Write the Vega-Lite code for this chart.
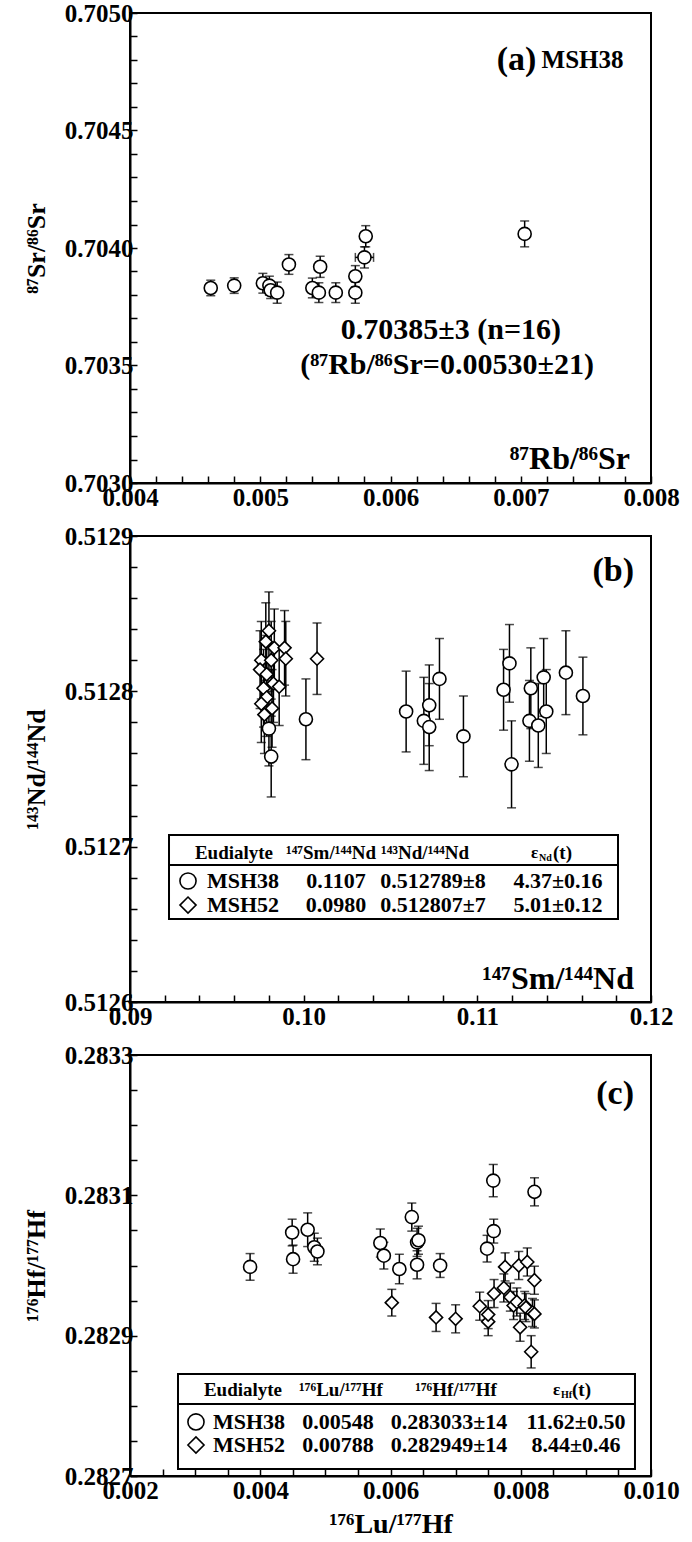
{
  "$schema": "https://vega.github.io/schema/vega-lite/v6.json",
  "padding": {"left": 22, "top": 0, "right": 0, "bottom": 0},
  "background": "white",
  "config": {
    "font": "Liberation Serif",
    "view": {"stroke": "black", "strokeWidth": 2},
    "axis": {
      "domainColor": "black", "domainWidth": 2,
      "tickColor": "black", "tickWidth": 1.5, "tickSize": -7,
      "labelFont": "Liberation Serif", "labelFontWeight": "bold", "labelFontSize": 25, "labelColor": "black",
      "labelFlush": false, "labelOverlap": false, "labelPadding": 4, "grid": false,
      "titleFont": "Liberation Serif", "titleFontWeight": "bold", "titleFontSize": 26, "titleColor": "black"
    },
    "axisX": {"labelPadding": 9},
    "text": {"font": "Liberation Serif", "fontWeight": "bold", "color": "black"}
  },
  "datasets": {
    "rbsr": [
      {"x": 0.00462, "y": 0.70383, "ey": 0.000033},
      {"x": 0.00480, "y": 0.70384, "ey": 0.000033},
      {"x": 0.00502, "y": 0.70385, "ey": 0.000042},
      {"x": 0.00507, "y": 0.70384, "ey": 0.000040},
      {"x": 0.00508, "y": 0.70382, "ey": 0.000035},
      {"x": 0.00513, "y": 0.70381, "ey": 0.000045},
      {"x": 0.00522, "y": 0.70393, "ey": 0.000042},
      {"x": 0.00540, "y": 0.70383, "ey": 0.000042},
      {"x": 0.00545, "y": 0.70381, "ey": 0.000042},
      {"x": 0.00546, "y": 0.70392, "ey": 0.000045},
      {"x": 0.00558, "y": 0.70381, "ey": 0.000042},
      {"x": 0.00573, "y": 0.70388, "ey": 0.000045},
      {"x": 0.00573, "y": 0.70381, "ey": 0.000045},
      {"x": 0.00580, "y": 0.70396, "ey": 0.000045, "ex": 0.00007},
      {"x": 0.00581, "y": 0.70405, "ey": 0.000045},
      {"x": 0.00703, "y": 0.70406, "ey": 0.000055}
    ],
    "smnd": [
      {"sample": "MSH52", "x": 0.09800, "y": 0.512839, "ey": 0.000025},
      {"sample": "MSH52", "x": 0.09782, "y": 0.512832, "ey": 0.000025},
      {"sample": "MSH52", "x": 0.09831, "y": 0.512828, "ey": 0.000025},
      {"sample": "MSH52", "x": 0.09890, "y": 0.512828, "ey": 0.000024},
      {"sample": "MSH52", "x": 0.09756, "y": 0.512820, "ey": 0.000025},
      {"sample": "MSH52", "x": 0.09813, "y": 0.512820, "ey": 0.000025},
      {"sample": "MSH52", "x": 0.09897, "y": 0.512821, "ey": 0.000024},
      {"sample": "MSH52", "x": 0.10077, "y": 0.512821, "ey": 0.000023},
      {"sample": "MSH52", "x": 0.09749, "y": 0.512814, "ey": 0.000025},
      {"sample": "MSH52", "x": 0.09787, "y": 0.512811, "ey": 0.000025},
      {"sample": "MSH52", "x": 0.09826, "y": 0.512805, "ey": 0.000025},
      {"sample": "MSH52", "x": 0.09769, "y": 0.512802, "ey": 0.000025},
      {"sample": "MSH52", "x": 0.09859, "y": 0.512803, "ey": 0.000025},
      {"sample": "MSH52", "x": 0.09787, "y": 0.512796, "ey": 0.000025},
      {"sample": "MSH52", "x": 0.09756, "y": 0.512792, "ey": 0.000025},
      {"sample": "MSH52", "x": 0.09774, "y": 0.512785, "ey": 0.000025},
      {"sample": "MSH52", "x": 0.09818, "y": 0.512789, "ey": 0.000025},
      {"sample": "MSH38", "x": 0.09800, "y": 0.512776, "ey": 0.000024},
      {"sample": "MSH38", "x": 0.09813, "y": 0.512758, "ey": 0.000026},
      {"sample": "MSH38", "x": 0.10013, "y": 0.512782, "ey": 0.000026},
      {"sample": "MSH38", "x": 0.10590, "y": 0.512787, "ey": 0.000026},
      {"sample": "MSH38", "x": 0.10692, "y": 0.512781, "ey": 0.000028},
      {"sample": "MSH38", "x": 0.10723, "y": 0.512777, "ey": 0.000028},
      {"sample": "MSH38", "x": 0.10723, "y": 0.512791, "ey": 0.000026},
      {"sample": "MSH38", "x": 0.10782, "y": 0.512808, "ey": 0.000026},
      {"sample": "MSH38", "x": 0.10920, "y": 0.512771, "ey": 0.000026},
      {"sample": "MSH38", "x": 0.11151, "y": 0.512801, "ey": 0.000026},
      {"sample": "MSH38", "x": 0.11185, "y": 0.512818, "ey": 0.000025},
      {"sample": "MSH38", "x": 0.11197, "y": 0.512753, "ey": 0.000028},
      {"sample": "MSH38", "x": 0.11308, "y": 0.512802, "ey": 0.000026},
      {"sample": "MSH38", "x": 0.11300, "y": 0.512781, "ey": 0.000026},
      {"sample": "MSH38", "x": 0.11351, "y": 0.512778, "ey": 0.000027},
      {"sample": "MSH38", "x": 0.11382, "y": 0.512809, "ey": 0.000025},
      {"sample": "MSH38", "x": 0.11397, "y": 0.512787, "ey": 0.000027},
      {"sample": "MSH38", "x": 0.11510, "y": 0.512812, "ey": 0.000027},
      {"sample": "MSH38", "x": 0.11608, "y": 0.512797, "ey": 0.000025}
    ],
    "luhf": [
      {"sample": "MSH38", "x": 0.003844, "y": 0.282998, "ey": 0.000019},
      {"sample": "MSH38", "x": 0.004490, "y": 0.283047, "ey": 0.000019},
      {"sample": "MSH38", "x": 0.004504, "y": 0.283009, "ey": 0.000020},
      {"sample": "MSH38", "x": 0.004728, "y": 0.283051, "ey": 0.000024},
      {"sample": "MSH38", "x": 0.004830, "y": 0.283026, "ey": 0.000020},
      {"sample": "MSH38", "x": 0.004878, "y": 0.283020, "ey": 0.000019},
      {"sample": "MSH38", "x": 0.005844, "y": 0.283032, "ey": 0.000020},
      {"sample": "MSH38", "x": 0.005898, "y": 0.283014, "ey": 0.000019},
      {"sample": "MSH38", "x": 0.006136, "y": 0.282995, "ey": 0.000021},
      {"sample": "MSH38", "x": 0.006327, "y": 0.283069, "ey": 0.000020},
      {"sample": "MSH38", "x": 0.006408, "y": 0.283033, "ey": 0.000020},
      {"sample": "MSH38", "x": 0.006430, "y": 0.283036, "ey": 0.000020},
      {"sample": "MSH38", "x": 0.006408, "y": 0.283001, "ey": 0.000020},
      {"sample": "MSH38", "x": 0.006762, "y": 0.283000, "ey": 0.000017},
      {"sample": "MSH38", "x": 0.007483, "y": 0.283024, "ey": 0.000019},
      {"sample": "MSH38", "x": 0.007585, "y": 0.283049, "ey": 0.000017},
      {"sample": "MSH38", "x": 0.007578, "y": 0.283121, "ey": 0.000023},
      {"sample": "MSH38", "x": 0.008211, "y": 0.283105, "ey": 0.000020},
      {"sample": "MSH52", "x": 0.006020, "y": 0.282947, "ey": 0.000019},
      {"sample": "MSH52", "x": 0.006700, "y": 0.282926, "ey": 0.000020},
      {"sample": "MSH52", "x": 0.007000, "y": 0.282924, "ey": 0.000020},
      {"sample": "MSH52", "x": 0.007370, "y": 0.282942, "ey": 0.000020},
      {"sample": "MSH52", "x": 0.007500, "y": 0.282920, "ey": 0.000020},
      {"sample": "MSH52", "x": 0.007500, "y": 0.282930, "ey": 0.000020},
      {"sample": "MSH52", "x": 0.007590, "y": 0.282960, "ey": 0.000020},
      {"sample": "MSH52", "x": 0.007740, "y": 0.282968, "ey": 0.000020},
      {"sample": "MSH52", "x": 0.007760, "y": 0.282998, "ey": 0.000020},
      {"sample": "MSH52", "x": 0.007840, "y": 0.282955, "ey": 0.000020},
      {"sample": "MSH52", "x": 0.007890, "y": 0.282943, "ey": 0.000020},
      {"sample": "MSH52", "x": 0.007940, "y": 0.282948, "ey": 0.000020},
      {"sample": "MSH52", "x": 0.007970, "y": 0.283000, "ey": 0.000020},
      {"sample": "MSH52", "x": 0.007990, "y": 0.282912, "ey": 0.000020},
      {"sample": "MSH52", "x": 0.008060, "y": 0.282943, "ey": 0.000020},
      {"sample": "MSH52", "x": 0.008080, "y": 0.282940, "ey": 0.000020},
      {"sample": "MSH52", "x": 0.008100, "y": 0.283005, "ey": 0.000020},
      {"sample": "MSH52", "x": 0.008180, "y": 0.282933, "ey": 0.000020},
      {"sample": "MSH52", "x": 0.008210, "y": 0.282979, "ey": 0.000020},
      {"sample": "MSH52", "x": 0.008210, "y": 0.282931, "ey": 0.000020},
      {"sample": "MSH52", "x": 0.008160, "y": 0.282877, "ey": 0.000023}
    ]
  },
  "vconcat": [
    {
      "width": 521, "height": 470,
      "layer": [
        {"data": {"name": "rbsr"},
         "mark": {"type": "errorbar", "color": "black", "ticks": {"size": 9, "thickness": 1.5, "color": "black"}, "rule": {"strokeWidth": 1.5, "color": "black"}},
         "encoding": {
           "x": {"field": "x", "type": "quantitative", "title": null, "scale": {"domain": [0.004, 0.008], "nice": false, "zero": false}},
           "y": {"field": "y", "type": "quantitative", "title": "⁸⁷Sr/⁸⁶Sr", "scale": {"domain": [0.703, 0.705], "nice": false, "zero": false}},
           "yError": {"field": "ey"}}},
        {"data": {"name": "rbsr"},
         "transform": [{"filter": "isValid(datum.ex)"}],
         "mark": {"type": "errorbar", "color": "black", "ticks": {"size": 9, "thickness": 1.5, "color": "black"}, "rule": {"strokeWidth": 1.5, "color": "black"}},
         "encoding": {"x": {"field": "x", "type": "quantitative", "title": null}, "y": {"field": "y", "type": "quantitative", "title": "⁸⁷Sr/⁸⁶Sr"}, "xError": {"field": "ex"}}},
        {"data": {"name": "rbsr"},
         "mark": {"type": "point", "shape": "circle", "filled": true, "fill": "white", "stroke": "black", "strokeWidth": 1.6, "size": 170, "opacity": 1},
         "encoding": {
           "x": {"field": "x", "type": "quantitative",
             "scale": {"domain": [0.004, 0.008], "nice": false, "zero": false},
             "axis": {"title": null, "tickCount": 100,
               "values": [0.004,0.0042,0.0044,0.0046,0.0048,0.005,0.0052,0.0054,0.0056,0.0058,0.006,0.0062,0.0064,0.0066,0.0068,0.007,0.0072,0.0074,0.0076,0.0078,0.008],
               "labelExpr": "abs(datum.value*1000 - round(datum.value*1000)) < 0.01 ? format(datum.value, '.3f') : ''"}},
           "y": {"field": "y", "type": "quantitative",
             "scale": {"domain": [0.703, 0.705], "nice": false, "zero": false},
             "axis": {"title": "⁸⁷Sr/⁸⁶Sr", "titlePadding": 15, "tickCount": 100,
               "values": [0.703,0.7031,0.7032,0.7033,0.7034,0.7035,0.7036,0.7037,0.7038,0.7039,0.704,0.7041,0.7042,0.7043,0.7044,0.7045,0.7046,0.7047,0.7048,0.7049,0.705],
               "labelExpr": "abs(datum.value*2000 - round(datum.value*2000)) < 0.01 ? format(datum.value, '.4f') : ''"}}}},
        {"data": {"values": [{}]},
         "mark": {"type": "text", "text": "(a)", "fontSize": 34, "align": "right", "baseline": "middle"},
         "encoding": {"x": {"datum": 0.00712}, "y": {"datum": 0.7048}}},
        {"data": {"values": [{}]},
         "mark": {"type": "text", "text": "MSH38", "fontSize": 25, "align": "left", "baseline": "middle"},
         "encoding": {"x": {"datum": 0.00716}, "y": {"datum": 0.7048}}},
        {"data": {"values": [{}]},
         "mark": {"type": "text", "text": "0.70385±3 (n=16)", "fontSize": 30, "align": "center", "baseline": "middle"},
         "encoding": {"x": {"datum": 0.006464}, "y": {"datum": 0.703651}}},
        {"data": {"values": [{}]},
         "mark": {"type": "text", "text": "(⁸⁷Rb/⁸⁶Sr=0.00530±21)", "fontSize": 30, "align": "center", "baseline": "middle"},
         "encoding": {"x": {"datum": 0.006434}, "y": {"datum": 0.703502}}},
        {"data": {"values": [{}]},
         "mark": {"type": "text", "text": "⁸⁷Rb/⁸⁶Sr", "fontSize": 32, "align": "right", "baseline": "middle"},
         "encoding": {"x": {"datum": 0.007839}, "y": {"datum": 0.703102}}}
      ]
    },
    {
      "width": 521, "height": 466,
      "layer": [
        {"data": {"name": "smnd"},
         "mark": {"type": "errorbar", "color": "black", "ticks": {"size": 9, "thickness": 1.5, "color": "black"}, "rule": {"strokeWidth": 1.5, "color": "black"}},
         "encoding": {
           "x": {"field": "x", "type": "quantitative", "title": null, "scale": {"domain": [0.09, 0.12], "nice": false, "zero": false}},
           "y": {"field": "y", "type": "quantitative", "title": "¹⁴³Nd/¹⁴⁴Nd", "scale": {"domain": [0.5126, 0.5129], "nice": false, "zero": false}},
           "yError": {"field": "ey"}}},
        {"data": {"name": "smnd"},
         "mark": {"type": "point", "filled": true, "fill": "white", "stroke": "black", "strokeWidth": 1.6, "size": 170, "opacity": 1},
         "encoding": {
           "x": {"field": "x", "type": "quantitative",
             "scale": {"domain": [0.09, 0.12], "nice": false, "zero": false},
             "axis": {"title": null, "tickCount": 100,
               "values": [0.09,0.092,0.094,0.096,0.098,0.1,0.102,0.104,0.106,0.108,0.11,0.112,0.114,0.116,0.118,0.12],
               "labelExpr": "abs(datum.value*100 - round(datum.value*100)) < 0.01 ? format(datum.value, '.2f') : ''"}},
           "y": {"field": "y", "type": "quantitative",
             "scale": {"domain": [0.5126, 0.5129], "nice": false, "zero": false},
             "axis": {"title": "¹⁴³Nd/¹⁴⁴Nd", "titlePadding": 15, "tickCount": 100,
               "values": [0.5126,0.51262,0.51264,0.51266,0.51268,0.5127,0.51272,0.51274,0.51276,0.51278,0.5128,0.51282,0.51284,0.51286,0.51288,0.5129],
               "labelExpr": "abs(datum.value*10000 - round(datum.value*10000)) < 0.01 ? format(datum.value, '.4f') : ''"}},
           "shape": {"field": "sample", "type": "nominal", "scale": {"domain": ["MSH38", "MSH52"], "range": ["circle", "diamond"]}, "legend": null}}},
        {"data": {"values": [{}]},
         "mark": {"type": "text", "text": "(b)", "fontSize": 34, "align": "right", "baseline": "middle"},
         "encoding": {"x": {"datum": 0.11902}, "y": {"datum": 0.5128775}}},
        {"data": {"values": [{}]},
         "mark": {"type": "text", "text": "¹⁴⁷Sm/¹⁴⁴Nd", "fontSize": 32, "align": "right", "baseline": "middle"},
         "encoding": {"x": {"datum": 0.11902}, "y": {"datum": 0.512615}}},
        {"data": {"values": [{}]},
         "mark": {"type": "rect", "fill": "white", "stroke": "black", "strokeWidth": 2},
         "encoding": {"x": {"datum": 0.092246}, "x2": {"datum": 0.1181}, "y": {"datum": 0.5127075}, "y2": {"datum": 0.5126534}}},
        {"data": {"values": [{}]},
         "mark": {"type": "rule", "stroke": "black", "strokeWidth": 2},
         "encoding": {"x": {"datum": 0.092246}, "x2": {"datum": 0.1181}, "y": {"datum": 0.5126882}}},
        {"data": {"values": [{}]},
         "mark": {"type": "text", "text": "Eudialyte", "fontSize": 19, "align": "center", "baseline": "middle"},
         "encoding": {"x": {"datum": 0.095988}, "y": {"datum": 0.5126959}}},
        {"data": {"values": [{}]},
         "mark": {"type": "text", "text": "¹⁴⁷Sm/¹⁴⁴Nd", "fontSize": 19, "align": "center", "baseline": "middle"},
         "encoding": {"x": {"datum": 0.101574}, "y": {"datum": 0.5126959}}},
        {"data": {"values": [{}]},
         "mark": {"type": "text", "text": "¹⁴³Nd/¹⁴⁴Nd", "fontSize": 19, "align": "center", "baseline": "middle"},
         "encoding": {"x": {"datum": 0.106986}, "y": {"datum": 0.5126959}}},
        {"data": {"values": [{}]},
         "mark": {"type": "text", "text": "ε", "fontSize": 17, "align": "left", "baseline": "middle", "dx": -21},
         "encoding": {"x": {"datum": 0.114299}, "y": {"datum": 0.5126959}}},
        {"data": {"values": [{}]},
         "mark": {"type": "text", "text": "Nd", "fontSize": 10, "align": "left", "baseline": "middle", "dx": -13, "dy": 5},
         "encoding": {"x": {"datum": 0.114299}, "y": {"datum": 0.5126959}}},
        {"data": {"values": [{}]},
         "mark": {"type": "text", "text": "(t)", "fontSize": 19, "align": "left", "baseline": "middle", "dx": 1},
         "encoding": {"x": {"datum": 0.114299}, "y": {"datum": 0.5126959}}},
        {"data": {"values": [{}]},
         "mark": {"type": "point", "shape": "circle", "filled": true, "fill": "white", "stroke": "black", "strokeWidth": 1.6, "size": 260, "opacity": 1},
         "encoding": {"x": {"datum": 0.09334}, "y": {"datum": 0.5126779}}},
        {"data": {"values": [{}]},
         "mark": {"type": "point", "shape": "diamond", "filled": true, "fill": "white", "stroke": "black", "strokeWidth": 1.6, "size": 260, "opacity": 1},
         "encoding": {"x": {"datum": 0.09334}, "y": {"datum": 0.5126624}}},
        {"data": {"values": [{}]},
         "mark": {"type": "text", "text": ["MSH38", "MSH52"], "fontSize": 22, "lineHeight": 24, "align": "left", "baseline": "middle"},
         "encoding": {"x": {"datum": 0.094434}, "y": {"datum": 0.5126779}}},
        {"data": {"values": [{}]},
         "mark": {"type": "text", "text": ["0.1107", "0.0980"], "fontSize": 22, "lineHeight": 24, "align": "center", "baseline": "middle"},
         "encoding": {"x": {"datum": 0.101862}, "y": {"datum": 0.5126779}}},
        {"data": {"values": [{}]},
         "mark": {"type": "text", "text": ["0.512789±8", "0.512807±7"], "fontSize": 22, "lineHeight": 24, "align": "center", "baseline": "middle"},
         "encoding": {"x": {"datum": 0.107447}, "y": {"datum": 0.5126779}}},
        {"data": {"values": [{}]},
         "mark": {"type": "text", "text": ["4.37±0.16", "5.01±0.12"], "fontSize": 22, "lineHeight": 24, "align": "center", "baseline": "middle"},
         "encoding": {"x": {"datum": 0.114644}, "y": {"datum": 0.5126779}}}
      ]
    },
    {
      "width": 521, "height": 421,
      "layer": [
        {"data": {"name": "luhf"},
         "mark": {"type": "errorbar", "color": "black", "ticks": {"size": 9, "thickness": 1.5, "color": "black"}, "rule": {"strokeWidth": 1.5, "color": "black"}},
         "encoding": {
           "x": {"field": "x", "type": "quantitative", "title": "¹⁷⁶Lu/¹⁷⁷Hf", "scale": {"domain": [0.002, 0.01], "nice": false, "zero": false}},
           "y": {"field": "y", "type": "quantitative", "title": "¹⁷⁶Hf/¹⁷⁷Hf", "scale": {"domain": [0.2827, 0.2833], "nice": false, "zero": false}},
           "yError": {"field": "ey"}}},
        {"data": {"name": "luhf"},
         "mark": {"type": "point", "filled": true, "fill": "white", "stroke": "black", "strokeWidth": 1.6, "size": 170, "opacity": 1},
         "encoding": {
           "x": {"field": "x", "type": "quantitative",
             "scale": {"domain": [0.002, 0.01], "nice": false, "zero": false},
             "axis": {"title": "¹⁷⁶Lu/¹⁷⁷Hf", "titlePadding": 7, "titleFontSize": 28, "tickCount": 100,
               "values": [0.002,0.0025,0.003,0.0035,0.004,0.0045,0.005,0.0055,0.006,0.0065,0.007,0.0075,0.008,0.0085,0.009,0.0095,0.01],
               "labelExpr": "abs(datum.value*500 - round(datum.value*500)) < 0.01 ? format(datum.value, '.3f') : ''"}},
           "y": {"field": "y", "type": "quantitative",
             "scale": {"domain": [0.2827, 0.2833], "nice": false, "zero": false},
             "axis": {"title": "¹⁷⁶Hf/¹⁷⁷Hf", "titlePadding": 15, "tickCount": 100,
               "values": [0.2827,0.28275,0.2828,0.28285,0.2829,0.28295,0.283,0.28305,0.2831,0.28315,0.2832,0.28325,0.2833],
               "labelExpr": "abs((datum.value-0.2827)*5000 - round((datum.value-0.2827)*5000)) < 0.01 ? format(datum.value, '.4f') : ''"}},
           "shape": {"field": "sample", "type": "nominal", "scale": {"domain": ["MSH38", "MSH52"], "range": ["circle", "diamond"]}, "legend": null}}},
        {"data": {"values": [{}]},
         "mark": {"type": "text", "text": "(c)", "fontSize": 34, "align": "right", "baseline": "middle"},
         "encoding": {"x": {"datum": 0.009739}, "y": {"datum": 0.2832444}}},
        {"data": {"values": [{}]},
         "mark": {"type": "rect", "fill": "white", "stroke": "black", "strokeWidth": 2},
         "encoding": {"x": {"datum": 0.002737}, "x2": {"datum": 0.009754}, "y": {"datum": 0.2828454}, "y2": {"datum": 0.28271}}},
        {"data": {"values": [{}]},
         "mark": {"type": "rule", "stroke": "black", "strokeWidth": 2},
         "encoding": {"x": {"datum": 0.002737}, "x2": {"datum": 0.009754}, "y": {"datum": 0.2828026}}},
        {"data": {"values": [{}]},
         "mark": {"type": "text", "text": "Eudialyte", "fontSize": 19, "align": "center", "baseline": "middle"},
         "encoding": {"x": {"datum": 0.003735}, "y": {"datum": 0.2828226}}},
        {"data": {"values": [{}]},
         "mark": {"type": "text", "text": "¹⁷⁶Lu/¹⁷⁷Hf", "fontSize": 19, "align": "center", "baseline": "middle"},
         "encoding": {"x": {"datum": 0.00524}, "y": {"datum": 0.2828226}}},
        {"data": {"values": [{}]},
         "mark": {"type": "text", "text": "¹⁷⁶Hf/¹⁷⁷Hf", "fontSize": 19, "align": "center", "baseline": "middle"},
         "encoding": {"x": {"datum": 0.007006}, "y": {"datum": 0.2828226}}},
        {"data": {"values": [{}]},
         "mark": {"type": "text", "text": "ε", "fontSize": 17, "align": "left", "baseline": "middle", "dx": -19},
         "encoding": {"x": {"datum": 0.008787}, "y": {"datum": 0.2828226}}},
        {"data": {"values": [{}]},
         "mark": {"type": "text", "text": "Hf", "fontSize": 10, "align": "left", "baseline": "middle", "dx": -11, "dy": 5},
         "encoding": {"x": {"datum": 0.008787}, "y": {"datum": 0.2828226}}},
        {"data": {"values": [{}]},
         "mark": {"type": "text", "text": "(t)", "fontSize": 19, "align": "left", "baseline": "middle", "dx": 0},
         "encoding": {"x": {"datum": 0.008787}, "y": {"datum": 0.2828226}}},
        {"data": {"values": [{}]},
         "mark": {"type": "point", "shape": "circle", "filled": true, "fill": "white", "stroke": "black", "strokeWidth": 1.6, "size": 260, "opacity": 1},
         "encoding": {"x": {"datum": 0.003013}, "y": {"datum": 0.282777}}},
        {"data": {"values": [{}]},
         "mark": {"type": "point", "shape": "diamond", "filled": true, "fill": "white", "stroke": "black", "strokeWidth": 1.6, "size": 260, "opacity": 1},
         "encoding": {"x": {"datum": 0.003013}, "y": {"datum": 0.2827442}}},
        {"data": {"values": [{}]},
         "mark": {"type": "text", "text": ["MSH38", "MSH52"], "fontSize": 22, "lineHeight": 23, "align": "left", "baseline": "middle"},
         "encoding": {"x": {"datum": 0.003274}, "y": {"datum": 0.282777}}},
        {"data": {"values": [{}]},
         "mark": {"type": "text", "text": ["0.00548", "0.00788"], "fontSize": 22, "lineHeight": 23, "align": "center", "baseline": "middle"},
         "encoding": {"x": {"datum": 0.005194}, "y": {"datum": 0.282777}}},
        {"data": {"values": [{}]},
         "mark": {"type": "text", "text": ["0.283033±14", "0.282949±14"], "fontSize": 22, "lineHeight": 23, "align": "center", "baseline": "middle"},
         "encoding": {"x": {"datum": 0.006898}, "y": {"datum": 0.282777}}},
        {"data": {"values": [{}]},
         "mark": {"type": "text", "text": ["11.62±0.50", "8.44±0.46"], "fontSize": 22, "lineHeight": 23, "align": "center", "baseline": "middle"},
         "encoding": {"x": {"datum": 0.008848}, "y": {"datum": 0.282777}}}
      ]
    }
  ],
  "spacing": 53,
  "bounds": "flush"
}
